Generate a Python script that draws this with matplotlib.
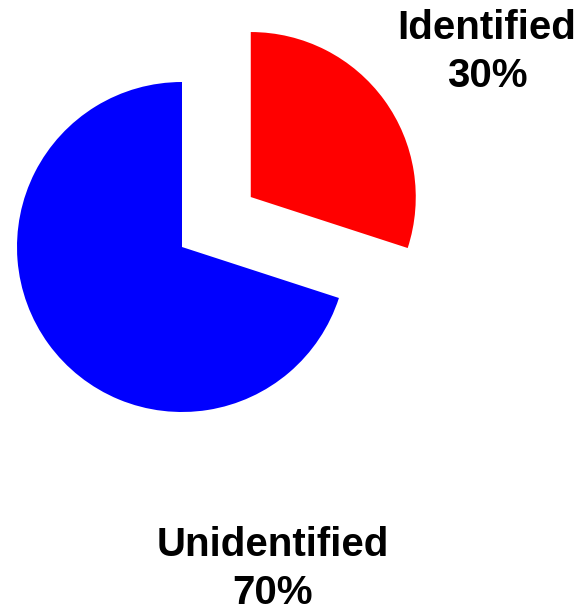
import matplotlib.pyplot as plt

labels = ['Identified', 'Unidentified']
shares = [30, 70]
colors = ['#ff0000', '#0000ff']
explode = [85, 0]  # pie() adds explode in data units (pixels here)

# label anchor points in pixel coords (x, y from top)
label_pos = [(487, 52), (273, 569)]


def main():
    fig = plt.figure(figsize=(5.81, 6.12), dpi=100)
    ax = fig.add_axes([0, 0, 1, 1])

    ax.pie(shares, colors=colors, explode=explode, startangle=90,
           counterclock=False, center=(182, 612 - 247), radius=165,
           wedgeprops=dict(linewidth=0))

    # pie() resets the limits, so set them afterwards
    ax.set_xlim(0, 581)
    ax.set_ylim(0, 612)
    ax.set_aspect('equal')
    ax.axis('off')

    for lab, val, (px, py) in zip(labels, shares, label_pos):
        ax.text(px, 612 - py, f'{lab}\n{val}%', ha='center', va='center',
                fontsize=29, fontweight='bold', family='Liberation Sans',
                linespacing=1.35)

    fig.savefig('out.png', dpi=100)


if __name__ == '__main__':
    main()
